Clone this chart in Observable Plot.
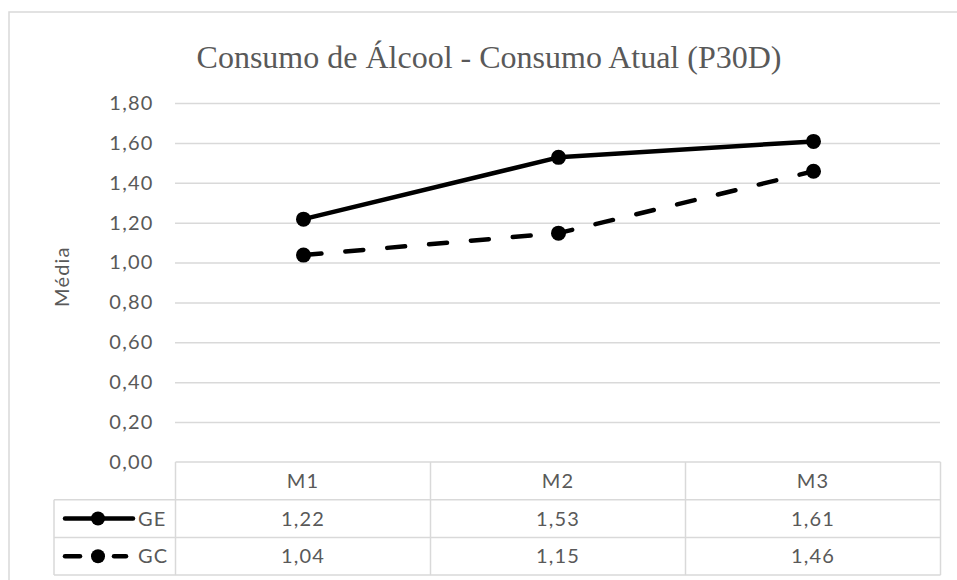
<!DOCTYPE html>
<html>
<head>
<meta charset="utf-8">
<script src="https://cdn.jsdelivr.net/npm/d3@7"></script>
<script src="https://cdn.jsdelivr.net/npm/@observablehq/plot@0.6"></script>
<style>
  html, body { margin: 0; padding: 0; background: #fff; }
  #chart svg { display: block; }
  #chart svg text { letter-spacing: 1.2px; }
  #chart svg text.title-text { letter-spacing: 0; }
</style>
</head>
<body>
<div id="chart"></div>
<script>
const titleText = "Consumo de Álcool - Consumo Atual (P30D)";
const yLabel = "Média";
const categories = ["M1", "M2", "M3"];
const seriesNames = ["GE", "GC"];
const geValues = [1.22, 1.53, 1.61];
const gcValues = [1.04, 1.15, 1.46];
const yTicks = [0, 0.2, 0.4, 0.6, 0.8, 1.0, 1.2, 1.4, 1.6, 1.8];

const fmt = v => v.toFixed(2).replace(".", ",");
const grey = "#595959";
const gridColor = "#d9d9d9";
const sans = "Lato, 'Open Sans', sans-serif";
const fs = 20;

const data = [];
categories.forEach((c, i) => {
  data.push({series: "GE", cat: c, value: geValues[i]});
  data.push({series: "GC", cat: c, value: gcValues[i]});
});
const dashes = {GE: null, GC: "18,24"};

const W = 957, H = 580;
const mL = 175, mR = 17, mT = 103, mB = 118;

const plot = Plot.plot({
  width: W,
  height: H,
  marginLeft: mL,
  marginRight: mR,
  marginTop: mT,
  marginBottom: mB,
  style: {fontFamily: sans, fontSize: fs + "px", background: "#fff", overflow: "visible"},
  x: {type: "point", domain: categories, padding: 0.5, axis: null},
  y: {domain: [0, 1.8], ticks: yTicks, tickFormat: fmt, label: null},
  marks: [
    Plot.ruleY(yTicks.filter(t => t > 0), {stroke: gridColor, strokeWidth: 1.5}),
    Plot.axisY({ticks: yTicks, tickFormat: fmt, tickSize: 0, tickPadding: 22, fontSize: fs, color: grey, label: null}),
    ...seriesNames.map(s => Plot.line(data.filter(d => d.series === s), {
      x: "cat", y: "value", stroke: "#000", strokeWidth: 4.5,
      strokeDasharray: dashes[s], strokeLinecap: "round", curve: "linear"
    })),
    Plot.dot(data, {x: "cat", y: "value", r: 7.5, fill: "#000", stroke: null}),
    Plot.text([titleText], {frameAnchor: "top", dx: -69, dy: -46, fontSize: 32, fill: grey,
      fontFamily: "'Liberation Serif', 'Times New Roman', serif", lineAnchor: "middle"}),
    Plot.text([yLabel], {frameAnchor: "left", dx: -113, dy: 24, rotate: -90, fontSize: 20, fill: grey, lineAnchor: "middle"})
  ]
});

document.getElementById("chart").appendChild(plot);

const svg = d3.select(plot);
svg.selectAll("text").filter(function() { return this.textContent === titleText; }).classed("title-text", true);

// Data table below the plot, built from the plot's own x scale
const xs = plot.scale("x");
const ys = plot.scale("y");
const step = (xs.range[1] - xs.range[0]) / (categories.length - 1 + 2 * 0.5);
const colLeft = c => xs.apply(c) - step / 2;
const tableLeft = colLeft(categories[0]);
const tableRight = colLeft(categories[categories.length - 1]) + step;
const top0 = ys.apply(0);
const rowH = 37.7;
const legendLeft = 54;
const g = svg.append("g").attr("text-anchor", "start");
const lineAttr = sel => sel.attr("stroke", gridColor).attr("stroke-width", 1.5).attr("fill", "none");

g.append("line").attr("x1", tableLeft).attr("x2", tableRight).attr("y1", top0).attr("y2", top0).call(lineAttr);
for (let r = 1; r <= 3; r++) {
  g.append("line").attr("x1", legendLeft).attr("x2", tableRight)
    .attr("y1", top0 + r * rowH).attr("y2", top0 + r * rowH).call(lineAttr);
}
g.append("line").attr("x1", legendLeft).attr("x2", legendLeft).attr("y1", top0 + rowH).attr("y2", top0 + 3 * rowH).call(lineAttr);
for (let i = 0; i <= categories.length; i++) {
  const x = tableLeft + i * step;
  g.append("line").attr("x1", x).attr("x2", x).attr("y1", top0).attr("y2", top0 + 3 * rowH).call(lineAttr);
}
categories.forEach(c => {
  g.append("text").attr("x", xs.apply(c)).attr("y", top0 + rowH / 2).attr("dy", "0.35em")
    .attr("text-anchor", "middle").attr("font-size", fs).attr("fill", grey).attr("font-family", sans).text(c);
});
const rows = [["GE", geValues], ["GC", gcValues]];
rows.forEach(([name, vals], ri) => {
  const cy = top0 + (ri + 1.5) * rowH;
  vals.forEach((v, i) => {
    g.append("text").attr("x", xs.apply(categories[i])).attr("y", cy).attr("dy", "0.35em")
      .attr("text-anchor", "middle").attr("font-size", fs).attr("fill", grey).attr("font-family", sans).text(fmt(v));
  });
  const keyLine = (x1, x2) => g.append("line").attr("x1", x1).attr("x2", x2).attr("y1", cy).attr("y2", cy)
    .attr("stroke", "#000").attr("stroke-width", 4.5).attr("stroke-linecap", "round");
  if (name === "GC") { keyLine(65, 80); keyLine(114, 126); } else { keyLine(65, 133); }
  g.append("circle").attr("cx", 98).attr("cy", cy).attr("r", 7).attr("fill", "#000");
  g.append("text").attr("x", 138).attr("y", cy).attr("dy", "0.35em")
    .attr("text-anchor", "start").attr("font-size", fs).attr("fill", grey).attr("font-family", sans).text(name);
});
svg.append("rect").attr("x", 9).attr("y", 12).attr("width", W).attr("height", H)
  .attr("fill", "none").attr("stroke", gridColor).attr("stroke-width", 1.5);
</script>
</body>
</html>
